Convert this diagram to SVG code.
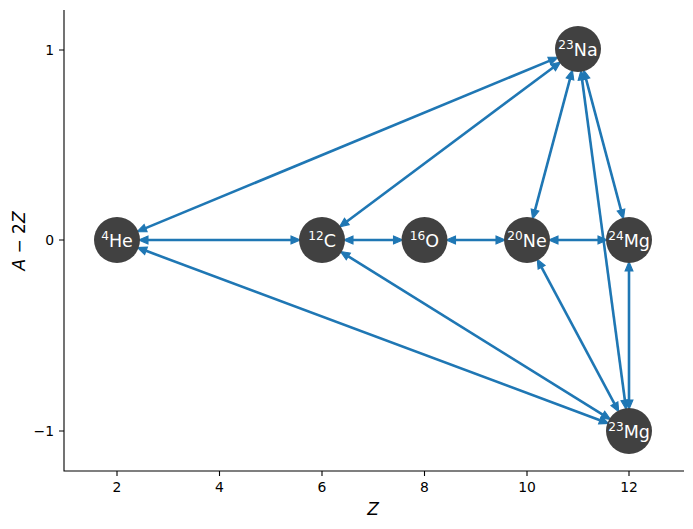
<svg xmlns="http://www.w3.org/2000/svg" width="693" height="529" viewBox="0 0 693 529">
<style>
.bg{fill:#ffffff}
.axis{stroke:#000;stroke-width:1.1;fill:none}
.tick{font-family:"DejaVu Sans",sans-serif;font-size:13.9px;fill:#000}
.lab{font-family:"DejaVu Sans",sans-serif;font-size:17px;fill:#000}
.edge{stroke:#1f77b4;stroke-width:2.6;fill:none;marker-start:url(#ah);marker-end:url(#ah)}
.node circle{fill:#414141}
.node text{font-family:"DejaVu Sans",sans-serif;font-size:17.5px;fill:#ffffff;text-anchor:middle}
.sup{font-size:12.2px}
</style>
<defs>
<marker id="ah" markerUnits="userSpaceOnUse" markerWidth="12" markerHeight="12" refX="0" refY="0" viewBox="-1 -5 11 10" orient="auto-start-reverse" overflow="visible">
<path d="M0,-3.6 L8.5,0 L0,3.6 z" fill="#1f77b4" stroke="#1f77b4" stroke-width="1" stroke-linejoin="miter"/>
</marker>
</defs>
<rect class="bg" x="0" y="0" width="693" height="529"/>
<g id="axes">
<path class="axis" d="M64,10 V471 H684"/>
<path class="axis" d="M59,50 H64 M59,240 H64 M59,431 H64 M117,471 V476 M219.5,471 V476 M322,471 V476 M424.5,471 V476 M527,471 V476 M629,471 V476"/>
<text class="tick" x="54" y="55" text-anchor="end">1</text>
<text class="tick" x="54" y="245" text-anchor="end">0</text>
<text class="tick" x="54" y="436" text-anchor="end">−1</text>
<text class="tick" x="117" y="492" text-anchor="middle">2</text>
<text class="tick" x="219.5" y="492" text-anchor="middle">4</text>
<text class="tick" x="322" y="492" text-anchor="middle">6</text>
<text class="tick" x="424.5" y="492" text-anchor="middle">8</text>
<text class="tick" x="527" y="492" text-anchor="middle">10</text>
<text class="tick" x="629" y="492" text-anchor="middle">12</text>
<text class="lab" x="373" y="515" text-anchor="middle" font-style="italic">Z</text>
<text class="lab" transform="translate(25,241) rotate(-90)" text-anchor="middle"><tspan font-style="italic">A</tspan> − 2<tspan font-style="italic">Z</tspan></text>
</g>
<g id="edges">
<line class="edge" x1="148" y1="240" x2="291" y2="240"/>
<line class="edge" x1="353" y1="240" x2="393.5" y2="240"/>
<line class="edge" x1="455.5" y1="240" x2="496" y2="240"/>
<line class="edge" x1="558" y1="240" x2="598" y2="240"/>
<line class="edge" x1="145.64" y1="228.13" x2="549.36" y2="60.87"/>
<line class="edge" x1="346.85" y1="221.46" x2="553.15" y2="67.54"/>
<line class="edge" x1="146.04" y1="250.83" x2="599.96" y2="420.17"/>
<line class="edge" x1="348.32" y1="256.38" x2="602.68" y2="414.62"/>
<line class="edge" x1="535.0" y1="210.05" x2="570.0" y2="78.95"/>
<line class="edge" x1="541.6" y1="267.35" x2="614.4" y2="403.65"/>
<line class="edge" x1="586.0" y1="78.95" x2="621.0" y2="210.05"/>
<line class="edge" x1="582.1" y1="79.73" x2="624.9" y2="400.27"/>
<line class="edge" x1="629" y1="271" x2="629" y2="400"/>
</g>
<g id="He4" class="node"><circle cx="117" cy="240" r="23"/><text x="117" y="246.5"><tspan class="sup" dy="-7">4</tspan><tspan dy="7">He</tspan></text></g>
<g id="C12" class="node"><circle cx="322" cy="240" r="23"/><text x="322" y="246.5"><tspan class="sup" dy="-7">12</tspan><tspan dy="7">C</tspan></text></g>
<g id="O16" class="node"><circle cx="424.5" cy="240" r="23"/><text x="424.5" y="246.5"><tspan class="sup" dy="-7">16</tspan><tspan dy="7">O</tspan></text></g>
<g id="Ne20" class="node"><circle cx="527" cy="240" r="23"/><text x="527" y="246.5"><tspan class="sup" dy="-7">20</tspan><tspan dy="7">Ne</tspan></text></g>
<g id="Mg24" class="node"><circle cx="629" cy="240" r="23"/><text x="629" y="246.5"><tspan class="sup" dy="-7">24</tspan><tspan dy="7">Mg</tspan></text></g>
<g id="Na23" class="node"><circle cx="578" cy="49" r="23"/><text x="578" y="55.5"><tspan class="sup" dy="-7">23</tspan><tspan dy="7">Na</tspan></text></g>
<g id="Mg23" class="node"><circle cx="629" cy="431" r="23"/><text x="629" y="437.5"><tspan class="sup" dy="-7">23</tspan><tspan dy="7">Mg</tspan></text></g>
</svg>
